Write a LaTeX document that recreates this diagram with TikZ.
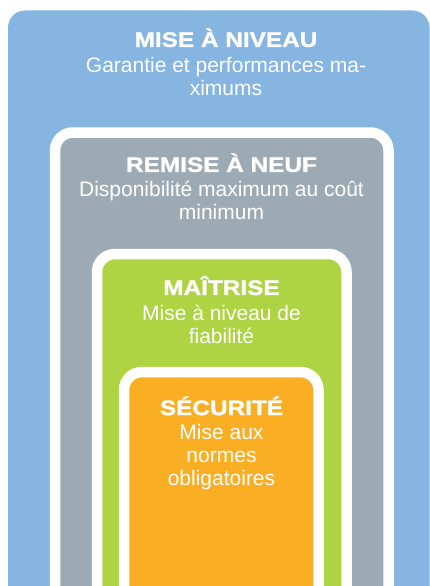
\documentclass[tikz,border=0pt]{standalone}
\usepackage{fontspec}
\setmainfont{Liberation Sans}
\newfontfamily\titlefont{Liberation Sans Bold}[FakeStretch=1.16,FakeBold=1.3]
\definecolor{cblue}{HTML}{85B5E0}
\definecolor{cgray}{HTML}{9EAAB3}
\definecolor{cgreen}{HTML}{AED443}
\definecolor{corange}{HTML}{F9AE24}
\begin{document}
\begin{tikzpicture}[x=1pt,y=-1pt,
  outerbox/.style={rectangle,anchor=north,outer sep=0pt,inner sep=0pt,rounded corners=17pt},
  framebox/.style={rectangle,anchor=north,outer sep=0pt,inner sep=0pt,draw=white,line width=10.5pt,rounded corners=18pt},
  label/.style={anchor=base,align=center,text=white,inner sep=0pt,font={\fontsize{21}{22.8}\selectfont}}]
\useasboundingbox (0,0) rectangle (430,586);
\clip (0,0) rectangle (430,586);
\node[outerbox,fill=cblue,minimum width=421.5pt,minimum height=610pt] (niveau) at (218.75,10.5) {};
\node[framebox,fill=cgray,minimum width=333.5pt,minimum height=487.5pt] (neuf) at (221.75,132.5) {};
\node[framebox,fill=cgreen,minimum width=249.5pt,minimum height=366pt] (maitrise) at (221.75,254) {};
\node[framebox,fill=corange,minimum width=194.5pt,minimum height=248pt] (securite) at (221.25,372) {};
\node[label] (t1) at (226,95) {{\titlefont MISE À NIVEAU}\\[2.5pt]Garantie et performances ma-\\ximums};
\node[label] (t2) at (221.5,219) {{\titlefont REMISE À NEUF}\\[1.5pt]Disponibilité maximum au coût\\minimum};
\node[label] (t3) at (221.5,343) {{\titlefont MAÎTRISE}\\[2.5pt]Mise à niveau de\\fiabilité};
\node[label] (t4) at (221.5,485) {{\titlefont SÉCURITÉ}\\[1.5pt]Mise aux\\normes\\obligatoires};
\end{tikzpicture}
\end{document}
